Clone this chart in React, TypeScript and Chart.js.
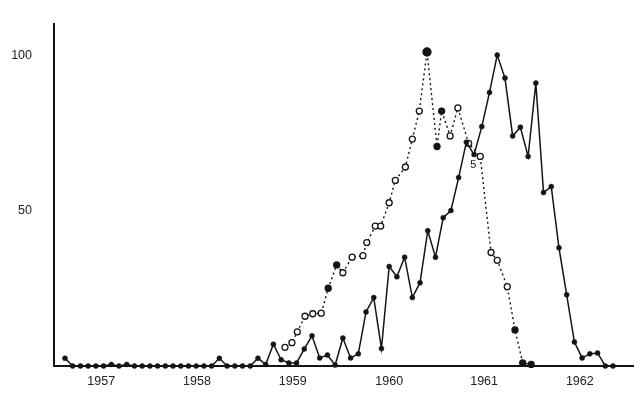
import React, { useEffect, useRef } from "react";
import { Chart, registerables } from "chart.js";

Chart.register(...registerables);

// Year labels and where they sit on the month axis (0 = first month, Jan 1957)
const yearLabels = ["1957", "1958", "1959", "1960", "1961", "1962"];
const yearTickMonths = [4.7, 17.1, 29.5, 42.0, 54.3, 66.7];
const yTickValues = [50, 100];

// Solid series: one value per month (72 months)
const solidValues = [
  2.5, 0, 0, 0, 0, 0, 0.5, 0, 0.5, 0, 0, 0,
  0, 0, 0, 0, 0, 0, 0, 0, 2.5, 0, 0, 0,
  0, 2.5, 0.5, 7, 2, 1, 1, 5.5, 9.7, 2.6, 3.5, 0.3,
  9, 2.6, 3.9, 17.4, 22, 5.6, 32, 28.7, 35, 22, 26.8, 43.5,
  35, 47.7, 50, 60.6, 72, 68, 77, 88, 100, 92.6, 74, 76.8,
  67.4, 91, 55.8, 57.7, 38, 22.9, 7.7, 2.6, 3.9, 4.2, 0, 0,
];

// Dotted series: month positions and values
const dottedMonths = [
  28.5, 29.4, 30.1, 31.1, 32.1, 33.2, 34.1, 35.2, 36.0, 37.2, 38.6, 39.1,
  40.2, 40.9, 42.0, 42.8, 44.1, 45.0, 45.9, 46.9, 48.2, 48.8, 49.9, 50.9,
  52.3, 53.8, 55.2, 56.0, 57.3, 58.3, 59.3, 60.4,
];
const dottedValues = [
  6, 7.5, 11, 16, 16.8, 17, 25, 32.5, 30, 35, 35.5, 39.7,
  45, 45, 52.5, 59.7, 64, 73, 82, 101, 70.6, 82, 74, 83,
  71.6, 67.4, 36.5, 34, 25.5, 11.6, 1, 0.5,
];
const dottedFilledIdx = [6, 7, 19, 20, 21, 29, 30, 31];

const annotationMonth = 52.9;
const annotationValue = 64.5;
const annotationText = "5";

const INK = "#151515";

export default function App() {
  const ref = useRef<HTMLCanvasElement | null>(null);

  useEffect(() => {
    if (!ref.current) return;
    const annotate = {
      id: "annot",
      afterDatasetsDraw(chart: any) {
        const { ctx, scales } = chart;
        ctx.save();
        ctx.fillStyle = INK;
        ctx.font = "11px 'Liberation Sans', Arial, sans-serif";
        ctx.textAlign = "center";
        ctx.textBaseline = "middle";
        ctx.fillText(
          annotationText,
          scales.x.getPixelForValue(annotationMonth),
          scales.y.getPixelForValue(annotationValue)
        );
        ctx.restore();
      },
    };

    const chart = new Chart(ref.current, {
      type: "line",
      data: {
        datasets: [
          {
            label: "solid",
            data: solidValues.map((v, i) => ({ x: i, y: v })),
            borderColor: INK,
            borderWidth: 1.5,
            pointRadius: 2.5,
            pointBackgroundColor: INK,
            pointBorderColor: INK,
            pointBorderWidth: 0.5,
            tension: 0,
            clip: false as any,
          },
          {
            label: "dotted",
            data: dottedMonths.map((m, i) => ({ x: m, y: dottedValues[i] })),
            borderColor: INK,
            borderWidth: 1.4,
            borderDash: [2, 3],
            pointRadius: (c: any) => (c.dataIndex === 19 ? 4 : 3),
            pointBackgroundColor: (c: any) =>
              dottedFilledIdx.includes(c.dataIndex) ? INK : "#ffffff",
            pointBorderColor: INK,
            pointBorderWidth: 1.3,
            tension: 0,
            clip: false as any,
          },
        ],
      },
      options: {
        responsive: false,
        animation: false,
        layout: { padding: { top: 24, right: 11, left: 0, bottom: 0 } },
        plugins: {
          legend: { display: false },
          tooltip: { enabled: false },
        },
        scales: {
          x: {
            type: "linear",
            min: -1.425,
            max: 73.59,
            grid: { display: false, drawTicks: false },
            border: { display: true, color: INK, width: 2 },
            afterBuildTicks: (scale: any) => {
              scale.ticks = yearTickMonths.map((v) => ({ value: v }));
            },
            afterFit: (scale: any) => {
              scale.height = 38;
              scale.paddingLeft = 0;
              scale.paddingRight = 0;
            },
            ticks: {
              autoSkip: false,
              maxRotation: 0,
              padding: 8,
              color: "#222",
              font: { family: "'Liberation Sans', Arial, sans-serif", size: 12.5 },
              callback: (_v: any, i: number) => yearLabels[i],
            },
          },
          y: {
            type: "linear",
            min: 0,
            max: 110,
            grid: { display: false, drawTicks: false },
            border: { display: true, color: INK, width: 2 },
            afterBuildTicks: (scale: any) => {
              scale.ticks = yTickValues.map((v) => ({ value: v }));
            },
            afterFit: (scale: any) => {
              scale.width = 54;
              scale.paddingTop = 0;
              scale.paddingBottom = 0;
            },
            ticks: {
              padding: 22,
              color: "#222",
              font: { family: "'Liberation Sans', Arial, sans-serif", size: 12.5 },
              callback: (v: any) => String(v),
            },
          },
        },
      },
      plugins: [annotate],
    });
    return () => chart.destroy();
  }, []);

  return (
    <div style={{ position: "absolute", left: 0, top: 0, width: 644, height: 404, background: "#fff" }}>
      <canvas ref={ref} width={644} height={404} />
    </div>
  );
}
